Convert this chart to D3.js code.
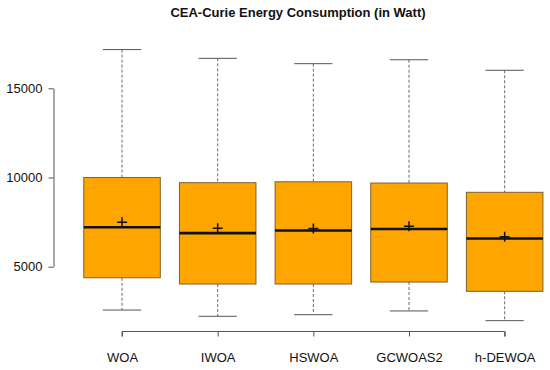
<!DOCTYPE html>
<html>
<head>
<meta charset="utf-8">
<script src="https://cdn.jsdelivr.net/npm/d3@7/dist/d3.min.js"></script>
<style>
  body { margin: 0; background: #fff; }
  svg { display: block; font-family: "Liberation Sans", Arial, sans-serif; }
</style>
</head>
<body>
<div id="chart"></div>
<script>
const WIDTH = 550, HEIGHT = 370;

// values
const algorithms = ["WOA", "IWOA", "HSWOA", "GCWOAS2", "h-DEWOA"];
const whiskerLow = [2570, 2220, 2310, 2520, 1975];
const q1 = [4380, 4030, 4030, 4140, 3620];
const median = [7210, 6880, 7030, 7110, 6580];
const q3 = [10000, 9710, 9760, 9690, 9170];
const whiskerHigh = [17170, 16680, 16380, 16600, 16010];
const means = [7490, 7150, 7140, 7270, 6680];
const yTicks = [5000, 10000, 15000];

const boxes = algorithms.map((a, i) => ({
    name: a, lo: whiskerLow[i], q1: q1[i], med: median[i],
    q3: q3[i], hi: whiskerHigh[i], mean: means[i], idx: i + 1
}));

const svg = d3.select("#chart")
    .append("svg")
    .attr("width", WIDTH)
    .attr("height", HEIGHT);

const x = d3.scaleLinear()
    .domain([0.5, 5.5])
    .range([74.2, 552.5]);

const y = d3.scaleLinear()
    .domain([5000, 15000])
    .range([266.7, 88.3]);

const boxW = (x(2) - x(1)) * 0.8;
const capW = boxW / 2;

// title
svg.append("text")
    .attr("x", 298)
    .attr("y", 17)
    .attr("text-anchor", "middle")
    .attr("font-weight", "bold")
    .attr("font-size", "13px")
    .attr("fill", "#111")
    .text("CEA-Curie Energy Consumption (in Watt)");

// y axis
const yAxis = svg.append("g")
    .attr("transform", "translate(53.5,0)")
    .call(d3.axisLeft(y).tickValues(yTicks).tickSize(5).tickSizeOuter(0).tickFormat(d3.format("d")));
yAxis.select(".domain").attr("stroke", "#555");
yAxis.selectAll(".tick line").attr("stroke", "#555");
yAxis.selectAll(".tick text")
    .attr("font-size", "13px")
    .attr("font-family", "Liberation Sans, Arial, sans-serif")
    .attr("fill", "#111")
    .attr("x", -11);

// x axis
const xAxis = svg.append("g")
    .attr("transform", "translate(0,331.5)")
    .call(d3.axisBottom(x).tickValues(d3.range(1, 6)).tickSize(5).tickSizeOuter(0)
        .tickFormat(d => algorithms[d - 1]));
xAxis.select(".domain")
    .attr("d", `M${x(1)},5V0H${x(5)}V5`)
    .attr("stroke", "#555");
xAxis.selectAll(".tick line").attr("stroke", "#555");
xAxis.selectAll(".tick text")
    .attr("font-size", "13px")
    .attr("font-family", "Liberation Sans, Arial, sans-serif")
    .attr("fill", "#111")
    .attr("y", 21)
    .attr("dy", "0.71em");

const g = svg.selectAll(".box")
    .data(boxes)
    .enter().append("g")
    .attr("class", "box");

// whiskers (dashed)
g.append("line")
    .attr("x1", d => x(d.idx)).attr("x2", d => x(d.idx))
    .attr("y1", d => y(d.hi)).attr("y2", d => y(d.q3))
    .attr("stroke", "#444").attr("stroke-width", 0.8)
    .attr("stroke-dasharray", "3,2");
g.append("line")
    .attr("x1", d => x(d.idx)).attr("x2", d => x(d.idx))
    .attr("y1", d => y(d.q1)).attr("y2", d => y(d.lo))
    .attr("stroke", "#444").attr("stroke-width", 0.8)
    .attr("stroke-dasharray", "3,2");

// caps
g.append("line")
    .attr("x1", d => x(d.idx) - capW / 2).attr("x2", d => x(d.idx) + capW / 2)
    .attr("y1", d => y(d.hi)).attr("y2", d => y(d.hi))
    .attr("stroke", "#555").attr("stroke-width", 1);
g.append("line")
    .attr("x1", d => x(d.idx) - capW / 2).attr("x2", d => x(d.idx) + capW / 2)
    .attr("y1", d => y(d.lo)).attr("y2", d => y(d.lo))
    .attr("stroke", "#555").attr("stroke-width", 1);

// boxes
g.append("rect")
    .attr("x", d => x(d.idx) - boxW / 2)
    .attr("width", boxW)
    .attr("y", d => y(d.q3))
    .attr("height", d => y(d.q1) - y(d.q3))
    .attr("fill", "#FFA500")
    .attr("stroke", "#7d6230")
    .attr("stroke-width", 1);

// median
g.append("line")
    .attr("x1", d => x(d.idx) - boxW / 2).attr("x2", d => x(d.idx) + boxW / 2)
    .attr("y1", d => y(d.med)).attr("y2", d => y(d.med))
    .attr("stroke", "#111").attr("stroke-width", 2.6);

// mean marker "+"
g.append("path")
    .attr("d", d => {
        const cx = x(d.idx), cy = y(d.mean), s = 5;
        return `M${cx - s},${cy}H${cx + s}M${cx},${cy - s}V${cy + s}`;
    })
    .attr("stroke", "#111").attr("stroke-width", 1.5)
    .attr("fill", "none");
</script>
</body>
</html>
